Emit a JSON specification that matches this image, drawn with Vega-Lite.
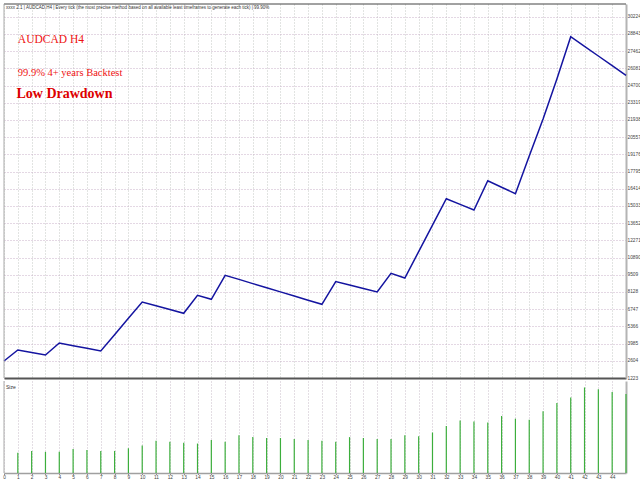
{
  "$schema": "https://vega.github.io/schema/vega-lite/v6.json",
  "padding": {"left": 1, "top": 3, "right": 0, "bottom": 0},
  "background": "white",
  "spacing": 0,
  "config": {"view": {"stroke": null}, "font": "Liberation Sans"},
  "datasets": {
    "trades": [
      {"trade": 0, "balance": 2588},
      {"trade": 1, "balance": 3471, "size": 0.22},
      {"trade": 2, "balance": 3270, "size": 0.24},
      {"trade": 3, "balance": 3070, "size": 0.23},
      {"trade": 4, "balance": 4033, "size": 0.23},
      {"trade": 5, "balance": 3816, "size": 0.26},
      {"trade": 6, "balance": 3608, "size": 0.25},
      {"trade": 7, "balance": 3391, "size": 0.24},
      {"trade": 8, "balance": 4700, "size": 0.24},
      {"trade": 9, "balance": 6016, "size": 0.27},
      {"trade": 10, "balance": 7325, "size": 0.30},
      {"trade": 11, "balance": 7020, "size": 0.35},
      {"trade": 12, "balance": 6723, "size": 0.34},
      {"trade": 13, "balance": 6418, "size": 0.33},
      {"trade": 14, "balance": 7863, "size": 0.32},
      {"trade": 15, "balance": 7542, "size": 0.36},
      {"trade": 16, "balance": 9469, "size": 0.34},
      {"trade": 17, "balance": 9140, "size": 0.41},
      {"trade": 18, "balance": 8802, "size": 0.39},
      {"trade": 19, "balance": 8473, "size": 0.38},
      {"trade": 20, "balance": 8136, "size": 0.38},
      {"trade": 21, "balance": 7807, "size": 0.37},
      {"trade": 22, "balance": 7470, "size": 0.36},
      {"trade": 23, "balance": 7140, "size": 0.35},
      {"trade": 24, "balance": 8971, "size": 0.34},
      {"trade": 25, "balance": 8690, "size": 0.39},
      {"trade": 26, "balance": 8409, "size": 0.38},
      {"trade": 27, "balance": 8128, "size": 0.37},
      {"trade": 28, "balance": 9629, "size": 0.37},
      {"trade": 29, "balance": 9252, "size": 0.41},
      {"trade": 30, "balance": 11372, "size": 0.40},
      {"trade": 31, "balance": 13491, "size": 0.44},
      {"trade": 32, "balance": 15619, "size": 0.51},
      {"trade": 33, "balance": 15161, "size": 0.57},
      {"trade": 34, "balance": 14712, "size": 0.56},
      {"trade": 35, "balance": 17064, "size": 0.55},
      {"trade": 36, "balance": 16542, "size": 0.62},
      {"trade": 37, "balance": 16020, "size": 0.59},
      {"trade": 38, "balance": 19047, "size": 0.58},
      {"trade": 39, "balance": 22018, "size": 0.67},
      {"trade": 40, "balance": 25230, "size": 0.76},
      {"trade": 41, "balance": 28626, "size": 0.82},
      {"trade": 42, "balance": 27851, "size": 0.93},
      {"trade": 43, "balance": 27076, "size": 0.91},
      {"trade": 44, "balance": 26302, "size": 0.88},
      {"trade": 45, "balance": 25527, "size": 0.86}
    ]
  },
  "vconcat": [
    {
      "width": 622,
      "height": 374,
      "layer": [
        {
          "data": {"name": "trades"},
          "mark": {"type": "line", "color": "#1414a0", "strokeWidth": 1.5},
          "encoding": {
            "x": {
              "field": "trade", "type": "quantitative",
              "scale": {"domain": [0, 45], "nice": false, "zero": false},
              "axis": {
                "orient": "bottom", "title": null, "labels": false, "ticks": false,
                "tickCount": 200,
                "values": [0,1,2,3,4,5,6,7,8,9,10,11,12,13,14,15,16,17,18,19,20,21,22,23,24,25,26,27,28,29,30,31,32,33,34,35,36,37,38,39,40,41,42,43,44,45],
                "domain": true, "domainColor": "#555555", "domainWidth": 2,
                "grid": true, "gridColor": "#c4c8c4", "gridDash": [1, 2], "gridWidth": 1
              }
            },
            "y": {
              "field": "balance", "type": "quantitative",
              "scale": {"domain": [1223, 31251], "nice": false, "zero": false},
              "axis": {
                "orient": "right", "title": null,
                "tickCount": 200,
                "values": [1223,2604,3985,5366,6747,8128,9509,10890,12271,13652,15033,16414,17795,19176,20557,21938,23319,24700,26081,27462,28843,30224],
                "format": "d", "labelFontSize": 4.8, "labelColor": "#444444", "labelPadding": 1,
                "labelOverlap": false, "labelBound": false,
                "ticks": false,
                "domain": true, "domainColor": "#b4b4b4", "domainWidth": 2,
                "grid": true, "gridColor": "#c8b0c8", "gridDash": [1, 2], "gridWidth": 1
              }
            }
          }
        },
        {
          "data": {"values": [{}]},
          "mark": {"type": "rule", "color": "#444444", "strokeWidth": 1},
          "encoding": {"y": {"datum": 31251}}
        },
        {
          "data": {"values": [{}]},
          "mark": {"type": "rule", "color": "#aaaaaa", "strokeWidth": 1},
          "encoding": {"x": {"datum": 0}}
        },
        {
          "data": {"values": [{}]},
          "mark": {"type": "text", "align": "left", "baseline": "middle", "fontSize": 4.5, "color": "#333333", "dx": 2, "font": "Liberation Sans"},
          "encoding": {"x": {"datum": 0}, "y": {"datum": 30930}, "text": {"value": "xxxx 2.1 | AUDCAD,H4 | Every tick (the most precise method based on all available least timeframes to generate each tick) | 99.90%"}}
        },
        {
          "data": {"values": [{}]},
          "mark": {"type": "text", "align": "left", "baseline": "middle", "fontSize": 11.5, "color": "#ee1111", "font": "Liberation Serif"},
          "encoding": {"x": {"datum": 1}, "y": {"datum": 28361}, "text": {"value": "AUDCAD H4"}}
        },
        {
          "data": {"values": [{}]},
          "mark": {"type": "text", "align": "left", "baseline": "middle", "fontSize": 10.5, "color": "#ee1111", "font": "Liberation Serif"},
          "encoding": {"x": {"datum": 1}, "y": {"datum": 25751}, "text": {"value": "99.9% 4+ years Backtest"}}
        },
        {
          "data": {"values": [{}]},
          "mark": {"type": "text", "align": "left", "baseline": "middle", "fontSize": 14, "fontWeight": "bold", "color": "#dd0000", "font": "Liberation Serif"},
          "encoding": {"x": {"datum": 0.9}, "y": {"datum": 24025}, "text": {"value": "Low Drawdown"}}
        }
      ]
    },
    {
      "width": 622,
      "height": 92,
      "layer": [
        {
          "data": {"name": "trades"},
          "mark": {"type": "rule", "color": "#3cae3c", "strokeWidth": 1.2},
          "encoding": {
            "x": {
              "field": "trade", "type": "quantitative",
              "scale": {"domain": [0, 45], "nice": false, "zero": false},
              "axis": {
                "orient": "bottom", "title": null,
                "tickCount": 200,
                "values": [0,1,2,3,4,5,6,7,8,9,10,11,12,13,14,15,16,17,18,19,20,21,22,23,24,25,26,27,28,29,30,31,32,33,34,35,36,37,38,39,40,41,42,43,44],
                "format": "d", "labelFontSize": 4.8, "labelColor": "#444444", "labelPadding": 0, "labelFlush": false, "labelAngle": 0,
                "labelOverlap": false,
                "ticks": true, "tickSize": 1.5, "tickColor": "#888888",
                "domain": true, "domainColor": "#a0a0a0", "domainWidth": 1.5,
                "grid": true, "gridColor": "#c8bcc8", "gridDash": [1, 2], "gridWidth": 1
              }
            },
            "y": {
              "field": "size", "type": "quantitative",
              "scale": {"domain": [0, 1], "nice": false},
              "axis": {
                "orient": "right", "title": null, "labels": false, "ticks": false, "grid": false,
                "domain": true, "domainColor": "#b4b4b4", "domainWidth": 2
              }
            },
            "y2": {"datum": 0}
          }
        },
        {
          "data": {"values": [{}]},
          "mark": {"type": "rule", "color": "#aaaaaa", "strokeWidth": 1},
          "encoding": {"x": {"datum": 0}}
        },
        {
          "data": {"values": [{}]},
          "mark": {"type": "text", "align": "left", "baseline": "top", "fontSize": 5, "color": "#333333", "dx": 2, "dy": 4},
          "encoding": {"x": {"datum": 0}, "y": {"datum": 1}, "text": {"value": "Size"}}
        }
      ]
    }
  ]
}
